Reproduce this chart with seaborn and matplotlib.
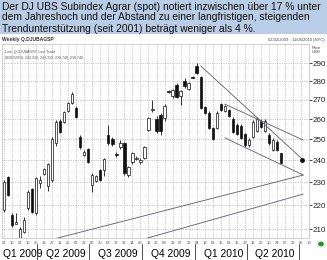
import numpy as np
import pandas as pd
import matplotlib
matplotlib.use("Agg")
import matplotlib.pyplot as plt
import matplotlib.dates as mdates
import matplotlib.transforms as mtransforms
from matplotlib.patches import Rectangle
import seaborn as sns

# ---------------- data ----------------
first_week = "2009-02-02"
opens = [218.0, 232.4, 215.8, 212.3, 205.1, 208.8, 218.8, 226.9, 216.6, 229.6,
         233.8, 228.4, 231.0, 248.3, 259.0, 258.6, 264.2, 268.5, 265.7, 251.3,
         242.5, 245.3, 228.8, 230.6, 235.5, 235.5, 252.1, 250.2, 242.9, 246.3,
         248.3, 233.3, 239.3, 240.7, 239.3, 241.1, 254.6, 264.7, 260.0, 262.0,
         260.6, 274.5, 272.1, 277.9, 272.1, 280.1, 275.8, 282.3, 288.4, 282.3,
         266.2, 263.1, 255.6, 255.6, 267.8, 264.2, 264.7, 260.1, 257.1, 256.6,
         252.6, 247.3, 251.1, 254.1, 259.1, 254.1, 252.1, 244.9, 248.7, 243.31]
highs = [231.0, 233.0, 216.5, 216.8, 211.0, 215.1, 226.5, 227.5, 232.5, 233.0,
         236.5, 239.0, 251.0, 259.5, 260.0, 264.0, 269.0, 274.0, 267.0, 252.0,
         245.0, 246.0, 234.0, 233.5, 236.0, 241.0, 257.1, 251.0, 244.0, 249.5,
         249.0, 237.5, 244.0, 242.0, 241.0, 247.0, 261.0, 269.9, 261.5, 263.0,
         268.0, 275.0, 276.0, 279.0, 275.5, 281.5, 279.5, 282.8, 290.0, 283.0,
         267.0, 264.0, 256.0, 264.0, 268.5, 267.5, 265.5, 261.0, 258.0, 257.5,
         253.0, 250.5, 259.5, 261.0, 260.0, 260.0, 253.0, 250.5, 249.5, 243.31]
lows = [217.0, 224.0, 211.0, 212.0, 204.5, 208.5, 218.0, 216.5, 216.0, 227.5,
        233.5, 226.0, 230.0, 247.0, 253.0, 258.0, 263.5, 268.0, 260.5, 245.5,
        242.0, 239.0, 225.5, 230.0, 230.5, 233.0, 247.5, 247.0, 241.5, 245.5,
        233.5, 232.5, 238.5, 240.0, 238.5, 240.5, 254.0, 263.6, 253.0, 252.0,
        259.0, 273.5, 271.0, 271.0, 267.3, 276.5, 275.0, 281.5, 284.0, 265.0,
        262.5, 255.0, 249.5, 255.0, 264.0, 263.5, 261.0, 253.0, 252.0, 250.0,
        246.5, 246.5, 250.5, 253.5, 255.5, 253.5, 247.5, 244.5, 244.5, 238.74]
closes = [230.0, 224.4, 211.6, 213.0, 210.0, 213.7, 225.7, 217.0, 232.0, 231.0,
          235.9, 238.3, 250.2, 258.6, 253.6, 263.6, 268.3, 273.0, 261.1, 246.3,
          243.9, 239.3, 233.3, 232.8, 231.0, 240.7, 248.3, 247.7, 242.5, 248.3,
          234.2, 236.9, 243.4, 241.1, 240.2, 246.3, 260.6, 265.2, 254.0, 254.0,
          266.8, 274.0, 275.1, 271.6, 274.6, 277.3, 278.9, 282.0, 284.6, 265.7,
          263.1, 255.6, 250.2, 263.1, 264.7, 266.7, 261.7, 253.6, 252.6, 250.7,
          247.3, 249.7, 258.6, 260.1, 256.1, 259.1, 248.3, 249.7, 244.9, 238.74]

# trend lines: (start date, start value, end date, end value)
trend_names = ["peak", "upper channel", "lower channel", "support 2001", "support 2"]
trend_x0 = ["2010-01-11", "2010-02-22", "2010-02-22", "2009-04-13", "2009-09-28"]
trend_y0 = [288.5, 267.8, 250.8, 205.0, 205.6]
trend_x1 = ["2010-07-09", "2010-07-09", "2010-07-09", "2010-07-09", "2010-07-09"]
trend_y1 = [240.2, 249.7, 233.3, 233.3, 224.8]

y_ticks = [210, 220, 230, 240, 250, 260, 270, 280, 290]
quarter_labels = ["Q1 2009", "Q2 2009", "Q3 2009", "Q4 2009", "Q1 2010", "Q2 2010"]
quarter_starts = ["2009-01-01", "2009-04-01", "2009-07-01", "2009-10-01", "2010-01-01", "2010-04-01"]

header_lines = ["Der DJ UBS Subindex Agrar (spot) notiert inzwischen über 17 % unter",
                "dem Jahreshoch und der Abstand zu einer langfristigen, steigenden",
                "Trendunterstützung (seit 2001) beträgt weniger als 4 %."]

# ---------------- figure ----------------
sns.set_style("white")
plt.rcParams["font.family"] = ["Liberation Sans", "DejaVu Sans"]

W, H = 327, 260
fig = plt.figure(figsize=(W / 100, H / 100), dpi=100)
fig.patch.set_facecolor("white")

# header band
fig.patches.append(Rectangle((0, 1 - 34 / H), 1, 34 / H, transform=fig.transFigure,
                             facecolor="#b9cde6", edgecolor="none", zorder=0))
for k, line in enumerate(header_lines):
    fig.text(2 / W, 1 - (9.5 + 11 * k) / H, line, ha="left", va="baseline",
             fontsize=7.35, color="#111111")

fig.text(2 / W, 1 - 40 / H, "Weekly Q.DJUBAGSP", fontsize=3.6, fontweight="bold",
         va="center", ha="left", color="#333333")
fig.text(325 / W, 1 - 40 / H, "02/02/2009 - 11/06/2010 (NYC)", fontsize=3.0,
         va="center", ha="right", color="#444444")

left, right, top, bottom = 2, 309, 44, 238
ax = fig.add_axes([left / W, (H - bottom) / H, (right - left) / W, (bottom - top) / H])

dates = pd.date_range(first_week, periods=len(opens), freq="7D")
df = pd.DataFrame({"date": dates, "open": opens, "high": highs, "low": lows, "close": closes})
df["x"] = mdates.date2num(df["date"])
up = df["close"] >= df["open"]

ax.set_yscale("log")
ax.set_ylim(206.4, 301)
x0 = mdates.date2num(pd.Timestamp(first_week)) - 0.5 * 7
x1 = x0 + (right - left) / 4.1 * 7
ax.set_xlim(x0, x1)

# grid
ax.set_yticks(y_ticks)
ax.set_yticks([], minor=True)
grid_dates = pd.date_range(first_week, "2010-07-20", freq="14D")
for gx in mdates.date2num(grid_dates):
    ax.axvline(gx, color="#9a9a9a", lw=0.5, ls=(0, (1, 1.6)), zorder=0)
for gy in y_ticks:
    ax.axhline(gy, color="#9a9a9a", lw=0.5, ls=(0, (1, 1.6)), zorder=0)

# candles
ax.vlines(df["x"], df["low"], df["high"], color="#111111", lw=0.6, zorder=2)
body_w = 4.0
ax.bar(df["x"][up], (df["close"] - df["open"])[up], bottom=df["open"][up], width=body_w,
       facecolor="white", edgecolor="#111111", linewidth=0.5, zorder=3)
ax.bar(df["x"][~up], (df["open"] - df["close"])[~up], bottom=df["close"][~up], width=body_w,
       facecolor="#111111", edgecolor="#111111", linewidth=0.5, zorder=3)

# trend lines via seaborn
for nm, a, b, c, d in zip(trend_names, trend_x0, trend_y0, trend_x1, trend_y1):
    tl = pd.DataFrame({"x": mdates.date2num(pd.to_datetime([a, c])), "y": [b, d]})
    sns.lineplot(data=tl, x="x", y="y", ax=ax, color="#666677", lw=0.65, zorder=4)
ax.plot([x1], [240.2], marker="o", ms=2.5, color="#111111", clip_on=False, zorder=5)

# axes styling
ax.yaxis.tick_right()
ax.yaxis.set_major_formatter(matplotlib.ticker.FuncFormatter(lambda v, p: f"{v:.0f}"))
ax.tick_params(axis="y", which="major", direction="out", length=2, width=0.6,
               labelsize=5.8, pad=0.5, colors="#222222")
ax.set_xticks(mdates.date2num(grid_dates))
ax.set_xticklabels([d.strftime("%d") for d in grid_dates])
ax.tick_params(axis="x", length=0, labelsize=3.0, pad=2, colors="#555555")
ax.set_xlabel("")
ax.set_ylabel("")
for s in ax.spines.values():
    s.set_color("#bbbbbb")
    s.set_linewidth(0.5)

# text inside plot
ax.text(0.01, 0.97, "Line, Q.DJUBAGSP, Last Trade\n06/07/2010, 243.310, 243.310, 238.740, 238.740",
        transform=ax.transAxes, fontsize=2.6, va="top", ha="left", color="#555555",
        linespacing=1.6)
fig.text(312 / W, 1 - 50 / H, "Price\nUSD", fontsize=3.0, va="center", ha="left",
         color="#444444", linespacing=1.3)

# quarter labels and separators
trans = mtransforms.blended_transform_factory(ax.transData, fig.transFigure)
qs = mdates.date2num(pd.to_datetime(quarter_starts))
for lab, q in zip(quarter_labels, qs):
    xq = max(q, x0)
    xt = xq + (9 / 4.1 * 7 if q > x0 else 1 / 4.1 * 7)
    fig.text(0, 0, lab, transform=trans, fontsize=7.4, fontweight="normal", ha="left",
             va="baseline", color="#000000").set_position((xt, 3 / H))
    if q > x0:
        ax.plot([q, q], [1 - 244 / H, 1 - 260 / H], transform=trans, color="#333333",
                lw=0.6, clip_on=False)
q_end = mdates.date2num(pd.Timestamp("2010-07-01"))
ax.plot([q_end, q_end], [1 - 244 / H, 1 - 260 / H], transform=trans, color="#333333",
        lw=0.6, clip_on=False)

fig.patches.append(plt.Circle((321 / W, 1 - 244 / H), 2.2 / W, transform=fig.transFigure,
                              color="#1a9a2a", zorder=5))

fig.savefig("out.png", dpi=100)
